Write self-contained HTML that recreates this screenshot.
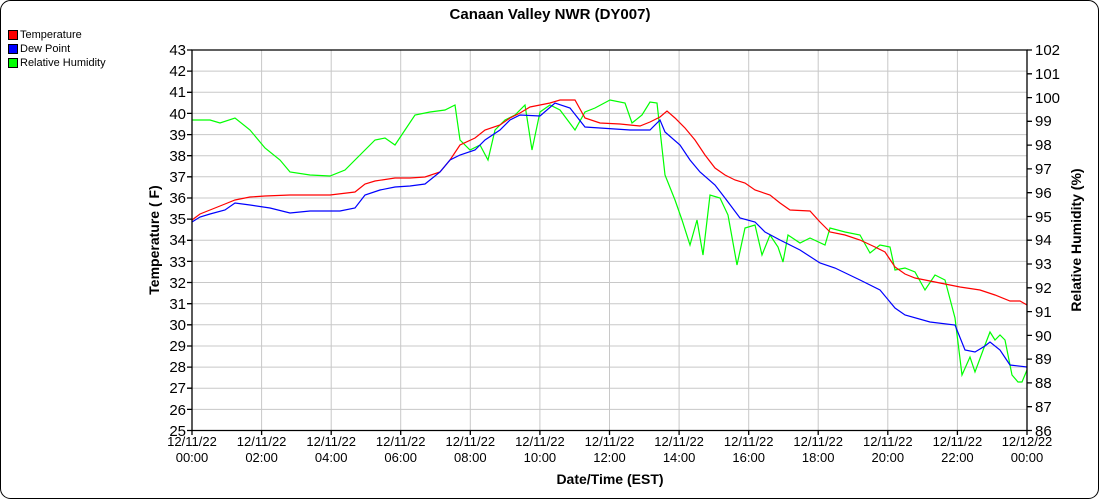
<!DOCTYPE html>
<html><head><meta charset="utf-8"><style>body{margin:0;background:#fff}svg{display:block;font-family:"Liberation Sans",sans-serif}</style></head><body>
<svg width="1100" height="500" viewBox="0 0 1100 500">
<rect x="0.5" y="0.5" width="1098" height="498" rx="10" fill="#fff" stroke="#000"/>
<text x="550" y="19" font-size="15" font-weight="bold" text-anchor="middle">Canaan Valley NWR (DY007)</text>
<g font-size="11">
<rect x="8.5" y="30.5" width="9" height="9" fill="#f00" stroke="#000"/><text x="20" y="38">Temperature</text>
<rect x="8.5" y="44.5" width="9" height="9" fill="#00f" stroke="#000"/><text x="20" y="52">Dew Point</text>
<rect x="8.5" y="58.5" width="9" height="9" fill="#0f0" stroke="#000"/><text x="20" y="66">Relative Humidity</text>
</g>
<g stroke="#c8c8c8" stroke-width="1">
<path d="M192 71.1H1027M192 92.3H1027M192 113.4H1027M192 134.6H1027M192 155.7H1027M192 176.8H1027M192 198H1027M192 219.1H1027M192 240.3H1027M192 261.4H1027M192 282.5H1027M192 303.7H1027M192 324.8H1027M192 346H1027M192 367.1H1027M192 388.2H1027M192 409.4H1027"/>
<path d="M261.6 50V430.5M331.2 50V430.5M400.7 50V430.5M470.3 50V430.5M539.9 50V430.5M609.5 50V430.5M679.1 50V430.5M748.7 50V430.5M818.2 50V430.5M887.8 50V430.5M957.4 50V430.5"/>
</g>
<g fill="none" stroke-width="1.2">
<polyline stroke="#0f0" points="192,120 210,120 220,123 235,118 250,130 265,148 280,160 290,172 310,175 330,176 345,170 355,160 365,150 375,140 385,138 395,145 405,130 415,115 430,112 445,110 455,105 460,140 470,150 480,145 488,160 495,130 505,120 515,115 525,105 532,150 540,112 550,105 560,110 575,130 585,112 595,108 610,100 625,103 632,123 642,115 650,102 657,103 665,175 675,200 682,220 690,245 697,220 703,255 710,195 720,198 728,215 737,265 745,228 755,225 762,255 770,235 778,247 783,262 788,235 800,243 810,238 825,245 830,228 845,232 860,235 870,253 880,245 890,247 895,270 905,268 915,272 925,290 935,275 945,280 955,318 962,375 970,357 975,372 985,345 990,332 995,340 1000,335 1005,340 1012,375 1018,382 1022,382 1027,370"/>
<polyline stroke="#f00" points="192,220 200,214 210,210 225,204 235,200 250,197 265,196 290,195 330,195 355,192 365,184 375,181 395,178 410,178 425,177 440,172 450,160 460,145 475,138 485,130 500,125 510,118 520,113 530,107 540,105 550,103 560,100 575,100 585,118 600,123 620,124 640,126 650,122 660,117 667,111 675,118 685,128 695,140 705,155 715,168 725,175 735,180 745,183 755,190 770,195 780,203 790,210 810,211 820,222 830,232 845,235 860,240 875,247 885,252 895,267 905,274 915,278 935,282 960,287 980,290 995,295 1010,301 1020,301 1027,305"/>
<polyline stroke="#00f" points="192,222 200,217 210,214 225,210 235,203 250,205 270,208 290,213 310,211 340,211 355,208 365,195 380,190 395,187 410,186 425,184 440,172 450,160 460,155 475,150 485,140 500,130 510,120 520,115 540,116 555,103 570,108 585,127 600,128 630,130 650,130 660,120 665,132 680,145 690,160 700,172 715,185 725,198 740,218 755,222 765,232 780,240 800,250 820,263 835,268 860,280 880,290 895,308 905,315 930,322 955,325 965,350 975,352 985,346 990,342 1000,350 1010,365 1027,367"/>
</g>
<g stroke="#000" stroke-width="1.3" fill="none">
<path d="M192 50H1027V430.5H192Z"/>
<path d="M187 50H192M187 71.1H192M187 92.3H192M187 113.4H192M187 134.6H192M187 155.7H192M187 176.8H192M187 198H192M187 219.1H192M187 240.3H192M187 261.4H192M187 282.5H192M187 303.7H192M187 324.8H192M187 346H192M187 367.1H192M187 388.2H192M187 409.4H192M187 430.5H192"/>
<path d="M1027 50H1032M1027 73.8H1032M1027 97.6H1032M1027 121.3H1032M1027 145.1H1032M1027 168.9H1032M1027 192.7H1032M1027 216.5H1032M1027 240.2H1032M1027 264H1032M1027 287.8H1032M1027 311.6H1032M1027 335.4H1032M1027 359.1H1032M1027 382.9H1032M1027 406.7H1032M1027 430.5H1032"/>
<path d="M192 430.5V435M261.6 430.5V435M331.2 430.5V435M400.7 430.5V435M470.3 430.5V435M539.9 430.5V435M609.5 430.5V435M679.1 430.5V435M748.7 430.5V435M818.2 430.5V435M887.8 430.5V435M957.4 430.5V435M1027 430.5V435"/>
</g>
<g font-size="15" text-anchor="end">
<text x="186" y="55">43</text><text x="186" y="76">42</text><text x="186" y="97">41</text><text x="186" y="119">40</text><text x="186" y="140">39</text><text x="186" y="161">38</text><text x="186" y="182">37</text><text x="186" y="203">36</text><text x="186" y="224">35</text><text x="186" y="245">34</text><text x="186" y="267">33</text><text x="186" y="288">32</text><text x="186" y="309">31</text><text x="186" y="330">30</text><text x="186" y="351">29</text><text x="186" y="372">28</text><text x="186" y="393">27</text><text x="186" y="415">26</text><text x="186" y="436">25</text>
</g>
<g font-size="15">
<text x="1035" y="55">102</text><text x="1035" y="79">101</text><text x="1035" y="103">100</text><text x="1035" y="126">99</text><text x="1035" y="150">98</text><text x="1035" y="174">97</text><text x="1035" y="198">96</text><text x="1035" y="222">95</text><text x="1035" y="245">94</text><text x="1035" y="269">93</text><text x="1035" y="293">92</text><text x="1035" y="317">91</text><text x="1035" y="341">90</text><text x="1035" y="364">89</text><text x="1035" y="388">88</text><text x="1035" y="412">87</text><text x="1035" y="436">86</text>
</g>
<g font-size="13" text-anchor="middle">
<text x="192" y="446">12/11/22</text><text x="192" y="462">00:00</text>
<text x="261.6" y="446">12/11/22</text><text x="261.6" y="462">02:00</text>
<text x="331.2" y="446">12/11/22</text><text x="331.2" y="462">04:00</text>
<text x="400.7" y="446">12/11/22</text><text x="400.7" y="462">06:00</text>
<text x="470.3" y="446">12/11/22</text><text x="470.3" y="462">08:00</text>
<text x="539.9" y="446">12/11/22</text><text x="539.9" y="462">10:00</text>
<text x="609.5" y="446">12/11/22</text><text x="609.5" y="462">12:00</text>
<text x="679.1" y="446">12/11/22</text><text x="679.1" y="462">14:00</text>
<text x="748.7" y="446">12/11/22</text><text x="748.7" y="462">16:00</text>
<text x="818.2" y="446">12/11/22</text><text x="818.2" y="462">18:00</text>
<text x="887.8" y="446">12/11/22</text><text x="887.8" y="462">20:00</text>
<text x="957.4" y="446">12/11/22</text><text x="957.4" y="462">22:00</text>
<text x="1027" y="446">12/12/22</text><text x="1027" y="462">00:00</text>
</g>
<text x="610" y="484" font-size="14" font-weight="bold" text-anchor="middle">Date/Time (EST)</text>
<text transform="translate(159,240) rotate(-90)" font-size="14" font-weight="bold" text-anchor="middle">Temperature ( F)</text>
<text transform="translate(1081,240) rotate(-90)" font-size="14" font-weight="bold" text-anchor="middle">Relative Humidity (%)</text>
</svg>
</body></html>
